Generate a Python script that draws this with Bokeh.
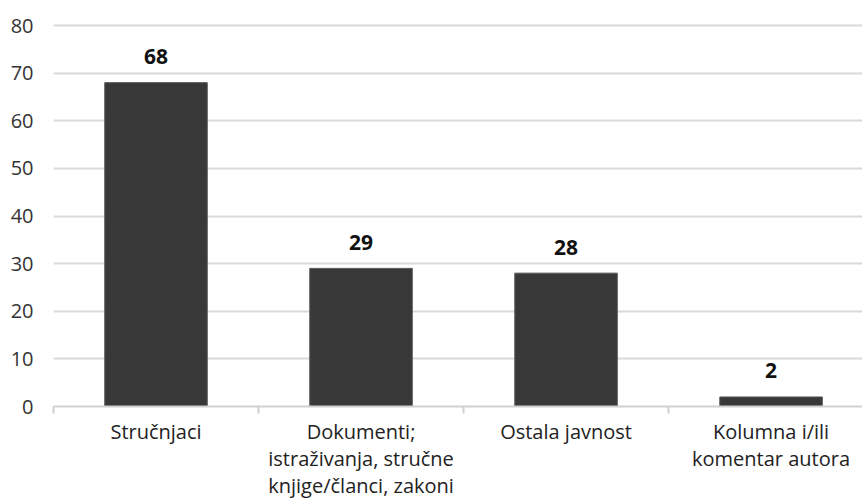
from bokeh.plotting import figure
from bokeh.models import Range1d, FixedTicker
from bokeh.embed import file_html
from bokeh.resources import INLINE
from bokeh.core.properties import value

categories = ["Stručnjaci", "Dokumenti;\nistraživanja, stručne\nknjige/članci, zakoni",
              "Ostala javnost", "Kolumna i/ili\nkomentar autora"]
values = [68, 29, 28, 2]
y_ticks = [0, 10, 20, 30, 40, 50, 60, 70, 80]

FONT = "Open Sans"
xs = [i + 0.5 for i in range(len(categories))]

p = figure(width=862, height=501, output_backend="svg", toolbar_location=None,
           x_range=Range1d(0, 3.946), y_range=Range1d(0, 81.05),
           min_border_left=53, min_border_right=0, min_border_top=20, min_border_bottom=95)
p.outline_line_color = None
p.background_fill_color = "white"
p.border_fill_color = "white"

p.vbar(x=xs, top=values, width=0.5, fill_color="#383838", line_color="#555555", line_width=1)

p.text(x=xs, y=values, text=[str(v) for v in values], text_align="center",
       text_baseline="alphabetic", y_offset=-26, text_font=value(FONT),
       text_font_style="bold", text_font_size="21px", text_color="#111111")

# y axis
p.yaxis.ticker = FixedTicker(ticks=y_ticks)
p.yaxis.axis_line_color = None
p.yaxis.major_tick_line_color = None
p.yaxis.minor_tick_line_color = None
p.yaxis.major_tick_out = 0
p.yaxis.major_tick_in = 0
p.yaxis.major_label_standoff = 20
p.yaxis.major_label_text_font = FONT
p.yaxis.major_label_text_font_size = "20px"
p.yaxis.major_label_text_color = "#333333"

# x axis
p.xaxis.ticker = FixedTicker(ticks=xs, minor_ticks=[0, 1, 2, 3])
p.xaxis.major_label_overrides = {x: c for x, c in zip(xs, categories)}
p.xaxis.axis_line_color = "#d0d0d0"
p.xaxis.axis_line_width = 2
p.xaxis.major_tick_line_color = None
p.xaxis.major_tick_out = 0
p.xaxis.major_tick_in = 0
p.xaxis.minor_tick_line_color = "#d0d0d0"
p.xaxis.minor_tick_line_width = 2
p.xaxis.minor_tick_out = 7
p.xaxis.minor_tick_in = 0
p.xaxis.major_label_standoff = 4
p.xaxis.major_label_text_font = FONT
p.xaxis.major_label_text_font_size = "20px"
p.xaxis.major_label_text_color = "#222222"
p.xaxis.major_label_text_line_height = 1.0

p.xgrid.grid_line_color = None
p.ygrid.grid_line_color = "#d9d9d9"
p.ygrid.grid_line_width = 2

open("out.html", "w").write(file_html(p, INLINE))
